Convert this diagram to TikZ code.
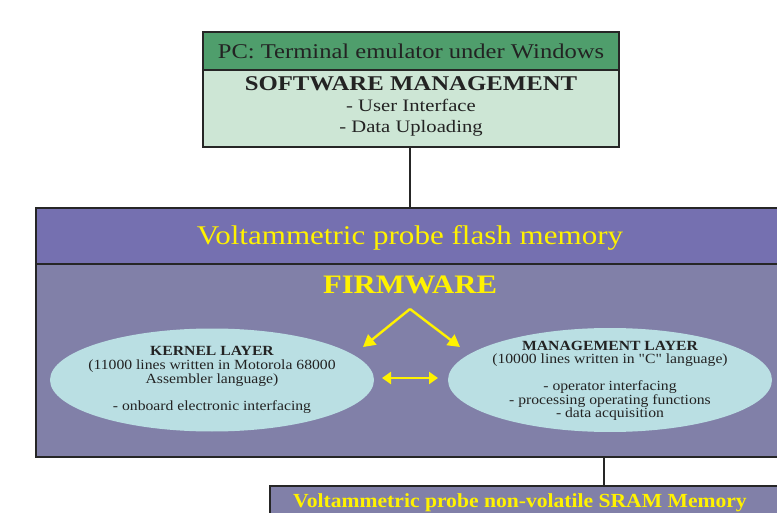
\documentclass[tikz,border=0pt]{standalone}
\usepackage{fontspec}
\setmainfont{Liberation Serif}[Ligatures=TeXOff]
\usetikzlibrary{shapes.geometric,arrows.meta}
\definecolor{hdgreen}{RGB}{79,158,108}
\definecolor{ltgreen}{RGB}{205,230,213}
\definecolor{hdpurple}{RGB}{117,112,176}
\definecolor{bdpurple}{RGB}{129,128,168}
\definecolor{ellcol}{RGB}{186,223,227}
\definecolor{yel}{RGB}{255,242,0}
\definecolor{txt}{RGB}{35,35,35}
\newcommand{\fs}[2]{\fontsize{#1}{#2}\selectfont}
\tikzset{
  boxst/.style={draw=black!85, line width=1.6pt, rectangle, inner sep=0pt, text=txt},
  ellst/.style={ellipse, fill=ellcol, draw=none, inner sep=0pt, text=txt, align=center},
  wide/.style={xscale=#1, transform shape},
  yarrow/.style={draw=yel, line width=2.4pt, -{Triangle[length=12pt,width=13pt]}},
  yarrow2/.style={draw=yel, line width=2.4pt, {Triangle[length=9pt,width=12pt]}-{Triangle[length=9pt,width=12pt]}},
  conn/.style={draw=black!85, line width=1.6pt}
}
\begin{document}
\begin{tikzpicture}[x=1pt,y=-1pt]
\useasboundingbox (0,0) rectangle (777,513);
\fill[white] (0,0) rectangle (777,513);
% top boxes
\node[boxst, fill=hdgreen, minimum width=416pt, minimum height=38pt] (pc) at (411,51) {};
\node[text=txt, font=\fs{21}{22}, wide=1.17] (pctext) at (411,51) {PC: Terminal emulator under Windows};
\node[boxst, fill=ltgreen, minimum width=416pt, minimum height=77pt, align=center] (sw) at (411,108.5) {};
\node[text=txt, align=center, font=\fs{17.5}{21}, wide=1.18] (swtext) at (411,106) {{\bfseries\fs{21}{21}SOFTWARE MANAGEMENT}\\- User Interface\\- Data Uploading};
% flash memory
\node[boxst, fill=hdpurple, minimum width=748pt, minimum height=56pt] (flash) at (410,236) {};
\node[text=yel, font=\fs{27}{28}, wide=1.15] (flashtext) at (410,238) {Voltammetric probe flash memory};
\node[boxst, fill=bdpurple, minimum width=748pt, minimum height=193pt] (fw) at (410,360.5) {};
\draw[conn] (sw.south -| 410,0) -- (flash.north -| 410,0);
\node[text=yel, font=\bfseries\fs{26.7}{28}, wide=1.15] (fwtitle) at (410,285) {FIRMWARE};
% ellipses
\node[ellst, minimum width=324pt, minimum height=103pt] (kernel) at (212,380) {};
\node[text=txt, align=center, font=\fs{14}{13.7}, wide=1.12] (kerneltext) at (212,380) {{\bfseries KERNEL LAYER}\\(11000 lines written in Motorola 68000\\Assembler language)\\[13.7pt]- onboard electronic interfacing};
\node[ellst, minimum width=324pt, minimum height=104pt] (mgmt) at (610,380) {};
\node[text=txt, align=center, font=\fs{14}{13.5}, wide=1.12] (mgmttext) at (610,381) {{\bfseries MANAGEMENT LAYER}\\(10000 lines written in "C" language)\\[13.5pt]- operator interfacing\\- processing operating functions\\- data acquisition};
% arrows
\coordinate (apex) at (410,309);
\coordinate (tipL) at (363,347);
\coordinate (tipR) at (460,347);
\coordinate (dL) at (382,378);
\coordinate (dR) at (438,378);
\draw[yarrow] (apex) -- (tipL);
\draw[yarrow] (apex) -- (tipR);
\draw[yarrow2] (dL) -- (dR);
% SRAM
\node[boxst, fill=bdpurple, minimum width=521pt, minimum height=60pt, anchor=north west] (sram) at (269,485) {};
\node[text=yel, font=\bfseries\fs{20}{20}, wide=1.08] (sramtext) at (520,503) {Voltammetric probe non-volatile SRAM Memory};
\coordinate (cx) at (604,0);
\draw[conn] (fw.south -| cx) -- (sram.north -| cx);
\end{tikzpicture}
\end{document}
